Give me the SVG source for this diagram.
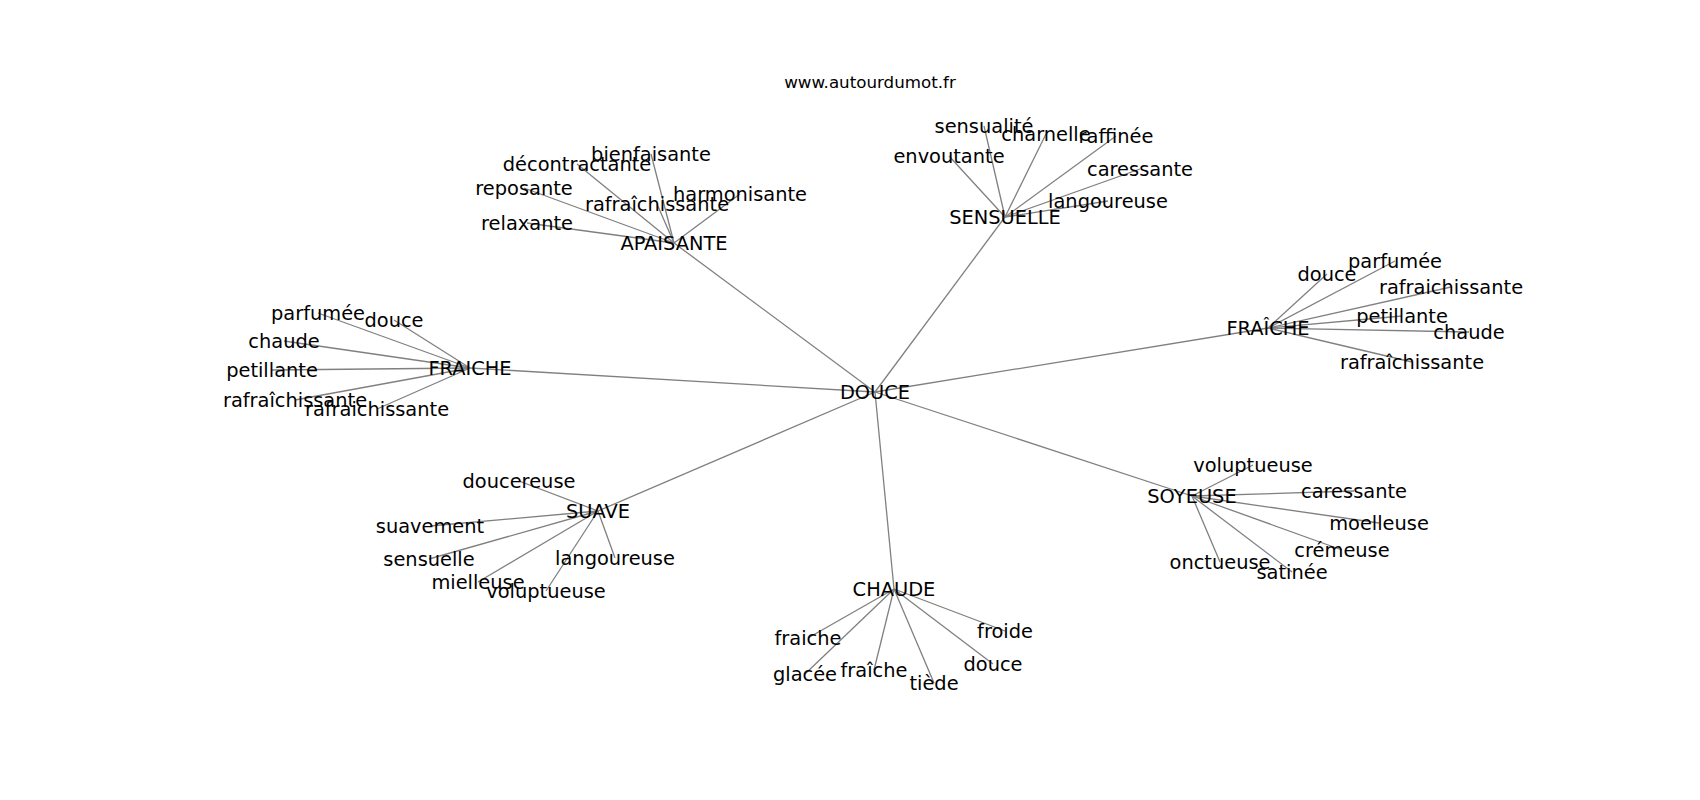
<svg xmlns="http://www.w3.org/2000/svg" width="1700" height="800" viewBox="0 0 1700 800">
<style>
.e{stroke:#808080;stroke-width:1.3;fill:none}
text{font-family:"DejaVu Sans",sans-serif;font-size:19.4px;fill:#000;text-anchor:middle}
.t{font-size:16.7px}
</style>
<rect width="1700" height="800" fill="#fff"/>
<text class="t" x="870" y="88">www.autourdumot.fr</text>
<g id="edges">
<line class="e" x1="875" y1="392" x2="674" y2="243"/>
<line class="e" x1="875" y1="392" x2="1005" y2="217"/>
<line class="e" x1="875" y1="392" x2="1268" y2="328"/>
<line class="e" x1="875" y1="392" x2="470" y2="368"/>
<line class="e" x1="875" y1="392" x2="598" y2="511"/>
<line class="e" x1="875" y1="392" x2="894" y2="589"/>
<line class="e" x1="875" y1="392" x2="1192" y2="496"/>
<line class="e" x1="674" y1="243" x2="651" y2="154"/>
<line class="e" x1="674" y1="243" x2="577" y2="164"/>
<line class="e" x1="674" y1="243" x2="524" y2="188"/>
<line class="e" x1="674" y1="243" x2="657" y2="204"/>
<line class="e" x1="674" y1="243" x2="740" y2="194"/>
<line class="e" x1="674" y1="243" x2="527" y2="223"/>
<line class="e" x1="1005" y1="217" x2="984" y2="126"/>
<line class="e" x1="1005" y1="217" x2="1046" y2="134"/>
<line class="e" x1="1005" y1="217" x2="1116" y2="136"/>
<line class="e" x1="1005" y1="217" x2="949" y2="156"/>
<line class="e" x1="1005" y1="217" x2="1140" y2="169"/>
<line class="e" x1="1005" y1="217" x2="1108" y2="201"/>
<line class="e" x1="1268" y1="328" x2="1327" y2="274"/>
<line class="e" x1="1268" y1="328" x2="1395" y2="261"/>
<line class="e" x1="1268" y1="328" x2="1451" y2="287"/>
<line class="e" x1="1268" y1="328" x2="1402" y2="316"/>
<line class="e" x1="1268" y1="328" x2="1469" y2="332"/>
<line class="e" x1="1268" y1="328" x2="1412" y2="362"/>
<line class="e" x1="470" y1="368" x2="318" y2="313"/>
<line class="e" x1="470" y1="368" x2="394" y2="320"/>
<line class="e" x1="470" y1="368" x2="284" y2="341"/>
<line class="e" x1="470" y1="368" x2="272" y2="370"/>
<line class="e" x1="470" y1="368" x2="295" y2="400"/>
<line class="e" x1="470" y1="368" x2="377" y2="409"/>
<line class="e" x1="598" y1="511" x2="519" y2="481"/>
<line class="e" x1="598" y1="511" x2="430" y2="526"/>
<line class="e" x1="598" y1="511" x2="429" y2="559"/>
<line class="e" x1="598" y1="511" x2="478" y2="582"/>
<line class="e" x1="598" y1="511" x2="546" y2="591"/>
<line class="e" x1="598" y1="511" x2="615" y2="558"/>
<line class="e" x1="894" y1="589" x2="808" y2="638"/>
<line class="e" x1="894" y1="589" x2="805" y2="674"/>
<line class="e" x1="894" y1="589" x2="874" y2="670"/>
<line class="e" x1="894" y1="589" x2="934" y2="683"/>
<line class="e" x1="894" y1="589" x2="993" y2="664"/>
<line class="e" x1="894" y1="589" x2="1005" y2="631"/>
<line class="e" x1="1192" y1="496" x2="1253" y2="465"/>
<line class="e" x1="1192" y1="496" x2="1354" y2="491"/>
<line class="e" x1="1192" y1="496" x2="1379" y2="523"/>
<line class="e" x1="1192" y1="496" x2="1342" y2="550"/>
<line class="e" x1="1192" y1="496" x2="1220" y2="562"/>
<line class="e" x1="1192" y1="496" x2="1292" y2="572"/>
</g>
<g id="n-douce"><text x="875" y="399">DOUCE</text></g>
<g id="n-apaisante"><text x="674" y="250">APAISANTE</text></g>
<g id="n-bienfaisante"><text x="651" y="161">bienfaisante</text></g>
<g id="n-decontractante"><text x="577" y="171">décontractante</text></g>
<g id="n-reposante"><text x="524" y="195">reposante</text></g>
<g id="n-rafraichissante-a"><text x="657" y="211">rafraîchissante</text></g>
<g id="n-harmonisante"><text x="740" y="201">harmonisante</text></g>
<g id="n-relaxante"><text x="527" y="230">relaxante</text></g>
<g id="n-sensuelle"><text x="1005" y="224">SENSUELLE</text></g>
<g id="n-sensualite"><text x="984" y="133">sensualité</text></g>
<g id="n-charnelle"><text x="1046" y="141">charnelle</text></g>
<g id="n-raffinee"><text x="1116" y="143">raffinée</text></g>
<g id="n-envoutante"><text x="949" y="163">envoutante</text></g>
<g id="n-caressante-s"><text x="1140" y="176">caressante</text></g>
<g id="n-langoureuse-s"><text x="1108" y="208">langoureuse</text></g>
<g id="n-fraiche-r"><text x="1268" y="335">FRAÎCHE</text></g>
<g id="n-douce-r"><text x="1327" y="281">douce</text></g>
<g id="n-parfumee-r"><text x="1395" y="268">parfumée</text></g>
<g id="n-rafraichissante-r1"><text x="1451" y="294">rafraichissante</text></g>
<g id="n-petillante-r"><text x="1402" y="323">petillante</text></g>
<g id="n-chaude-r"><text x="1469" y="339">chaude</text></g>
<g id="n-rafraichissante-r2"><text x="1412" y="369">rafraîchissante</text></g>
<g id="n-fraiche-l"><text x="470" y="375">FRAICHE</text></g>
<g id="n-parfumee-l"><text x="318" y="320">parfumée</text></g>
<g id="n-douce-l"><text x="394" y="327">douce</text></g>
<g id="n-chaude-l"><text x="284" y="348">chaude</text></g>
<g id="n-petillante-l"><text x="272" y="377">petillante</text></g>
<g id="n-rafraichissante-l1"><text x="295" y="407">rafraîchissante</text></g>
<g id="n-rafraichissante-l2"><text x="377" y="416">rafraichissante</text></g>
<g id="n-suave"><text x="598" y="518">SUAVE</text></g>
<g id="n-doucereuse"><text x="519" y="488">doucereuse</text></g>
<g id="n-suavement"><text x="430" y="533">suavement</text></g>
<g id="n-sensuelle-s"><text x="429" y="566">sensuelle</text></g>
<g id="n-mielleuse"><text x="478" y="589">mielleuse</text></g>
<g id="n-voluptueuse-s"><text x="546" y="598">voluptueuse</text></g>
<g id="n-langoureuse-v"><text x="615" y="565">langoureuse</text></g>
<g id="n-chaude"><text x="894" y="596">CHAUDE</text></g>
<g id="n-fraiche-c1"><text x="808" y="645">fraiche</text></g>
<g id="n-glacee"><text x="805" y="681">glacée</text></g>
<g id="n-fraiche-c2"><text x="874" y="677">fraîche</text></g>
<g id="n-tiede"><text x="934" y="690">tiède</text></g>
<g id="n-douce-c"><text x="993" y="671">douce</text></g>
<g id="n-froide"><text x="1005" y="638">froide</text></g>
<g id="n-soyeuse"><text x="1192" y="503">SOYEUSE</text></g>
<g id="n-voluptueuse-y"><text x="1253" y="472">voluptueuse</text></g>
<g id="n-caressante-y"><text x="1354" y="498">caressante</text></g>
<g id="n-moelleuse"><text x="1379" y="530">moelleuse</text></g>
<g id="n-cremeuse"><text x="1342" y="557">crémeuse</text></g>
<g id="n-onctueuse"><text x="1220" y="569">onctueuse</text></g>
<g id="n-satinee"><text x="1292" y="579">satinée</text></g>
</svg>
